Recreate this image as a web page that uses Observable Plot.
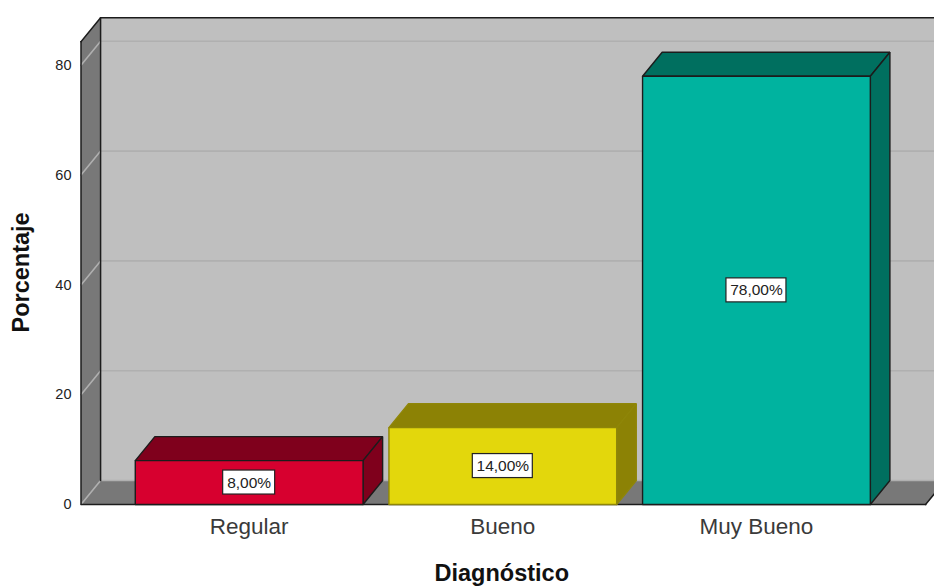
<!DOCTYPE html>
<html lang="es">
<head>
<meta charset="utf-8">
<script src="https://cdn.jsdelivr.net/npm/d3@7"></script>
<script src="https://cdn.jsdelivr.net/npm/@observablehq/plot@0.6"></script>
<style>
  html, body { margin: 0; padding: 0; background: #fff; overflow: hidden; }
</style>
</head>
<body>
<div id="chart"></div>
<script>
// Diagnóstico: percentage of cases per category
const categories = ["Regular", "Bueno", "Muy Bueno"];
const values = [8, 14, 78];
const valueLabels = ["8,00%", "14,00%", "78,00%"];
const yTicks = [0, 20, 40, 60, 80];
const frontColors = ["#d7002f", "#e3d70c", "#00b39f"];
const sideColors = ["#7f001c", "#8c8205", "#006f5f"];
const edgeColors = ["#1c1c1c", "#8f8608", "#1c1c1c"];

// Extent of the 3-D box, in axis units
const barHalf = 0.449;     // half a bar, one category = 1
const depthX = 0.0772;     // extrusion along x
const depthY = 4.37;       // extrusion along y
const boxLeft = -0.663;
const boxRight = 2.667;
const boxTop = 84.3;
const xEnd = 2.702;
const yEnd = 91.8;

const wallColor = "#bfbfbf";
const shadeColor = "#787878";
const gridColor = "#b0b0b0";
const lineColor = "#1c1c1c";

// A closed face is a list of [x, y] corners; the first is repeated to close the outline
const faces = [];
function addFace(points, fill, stroke) {
  const id = faces.length ? faces[faces.length - 1].id + 1 : 0;
  for (const [x, y] of [...points, points[0]]) faces.push({id, x, y, fill, stroke});
}

// Walls and floor of the chart box
addFace([[boxLeft + depthX, depthY], [boxRight + depthX, depthY], [boxRight + depthX, boxTop + depthY], [boxLeft + depthX, boxTop + depthY]], wallColor, "none");
addFace([[boxLeft, 0], [boxLeft + depthX, depthY], [boxLeft + depthX, boxTop + depthY], [boxLeft, boxTop]], shadeColor, "none");
addFace([[boxLeft, 0], [boxRight, 0], [boxRight + depthX, depthY], [boxLeft + depthX, depthY]], shadeColor, "none");
const boxFaceCount = faces.length;

// Bars: front, top and right-hand faces
categories.forEach((c, i) => {
  const a = i - barHalf, b = i + barHalf, v = values[i];
  addFace([[a, v], [b, v], [b + depthX, v + depthY], [a + depthX, v + depthY]], sideColors[i], edgeColors[i]);
  addFace([[b, 0], [b + depthX, depthY], [b + depthX, v + depthY], [b, v]], sideColors[i], edgeColors[i]);
  addFace([[a, 0], [b, 0], [b, v], [a, v]], frontColors[i], edgeColors[i]);
});
const boxFaces = faces.slice(0, boxFaceCount);
const barFaces = faces.slice(boxFaceCount);

// Gridlines run along the back wall, then down the side wall to the front edge
const gridRows = yTicks.flatMap((t) => [
  {t, x: boxLeft, y: t},
  {t, x: boxLeft + depthX, y: t + depthY},
  {t, x: boxRight + depthX, y: t + depthY}
]);

// Dark outline of the box
const outlines = [
  {id: "front", x: boxLeft, y: boxTop}, {id: "front", x: boxLeft, y: 0}, {id: "front", x: boxRight, y: 0},
  {id: "floorEnd", x: boxRight, y: 0}, {id: "floorEnd", x: boxRight + depthX, y: depthY},
  {id: "top", x: boxLeft, y: boxTop}, {id: "top", x: boxLeft + depthX, y: boxTop + depthY}, {id: "top", x: boxRight + depthX, y: boxTop + depthY},
  {id: "corner", x: boxLeft + depthX, y: boxTop + depthY}, {id: "corner", x: boxLeft + depthX, y: depthY}
];

const labels = categories.map((c, i) => ({i, mid: values[i] / 2, text: valueLabels[i]}));

// White value tag: a zero-size rect at the bar centre, grown by negative insets
const tag = (rows, half) => Plot.rect(rows, {
  x1: "i", x2: "i", y1: "mid", y2: "mid",
  insetLeft: -half, insetRight: -half, insetTop: -12, insetBottom: -12,
  fill: "white", stroke: "#222", strokeWidth: 1.2
});

const chart = Plot.plot({
  width: 934,
  height: 586,
  marginLeft: 80.5,
  marginRight: 0,
  marginTop: 0,
  marginBottom: 82,
  style: {background: "white", fontFamily: "'Liberation Sans', Arial, sans-serif"},
  x: {type: "linear", domain: [boxLeft, xEnd], axis: null},
  y: {type: "linear", domain: [0, yEnd], axis: null},
  color: {type: "identity"},
  marks: [
    Plot.line(boxFaces, {x: "x", y: "y", z: "id", fill: "fill", stroke: "none"}),
    Plot.line(gridRows, {x: "x", y: "y", z: "t", stroke: gridColor, strokeWidth: 1.6}),
    Plot.line(outlines, {x: "x", y: "y", z: "id", stroke: lineColor, strokeWidth: 1.5, strokeLinecap: "square"}),
    Plot.line(barFaces, {x: "x", y: "y", z: "id", fill: "fill", stroke: "stroke", strokeWidth: 1.4, strokeLinejoin: "miter"}),
    tag(labels.filter((d) => d.text.length === 5), 26),
    tag(labels.filter((d) => d.text.length === 6), 30),
    Plot.text(labels, {x: "i", y: "mid", text: "text", fontSize: 15.5, fill: "#222"}),
    Plot.axisY({ticks: yTicks, tickSize: 0, tickPadding: 9.5, fontSize: 14.5, color: "#222", label: null}),
    Plot.axisX({
      ticks: [0, 1, 2], tickFormat: (i) => categories[i], tickSize: 0, tickPadding: 14,
      fontSize: 22.5, color: "#3a3a3a", label: null
    }),
    Plot.text(["Diagnóstico"], {
      frameAnchor: "bottom", text: (d) => d, fontSize: 23.5, fontWeight: "bold", fill: "#111", dx: -6, dy: 76
    }),
    Plot.text(["Porcentaje"], {
      frameAnchor: "left", text: (d) => d, fontSize: 23.5, fontWeight: "bold", fill: "#111", rotate: -90, dx: -60, dy: 80
    })
  ]
});
document.getElementById("chart").append(chart);
</script>
</body>
</html>
